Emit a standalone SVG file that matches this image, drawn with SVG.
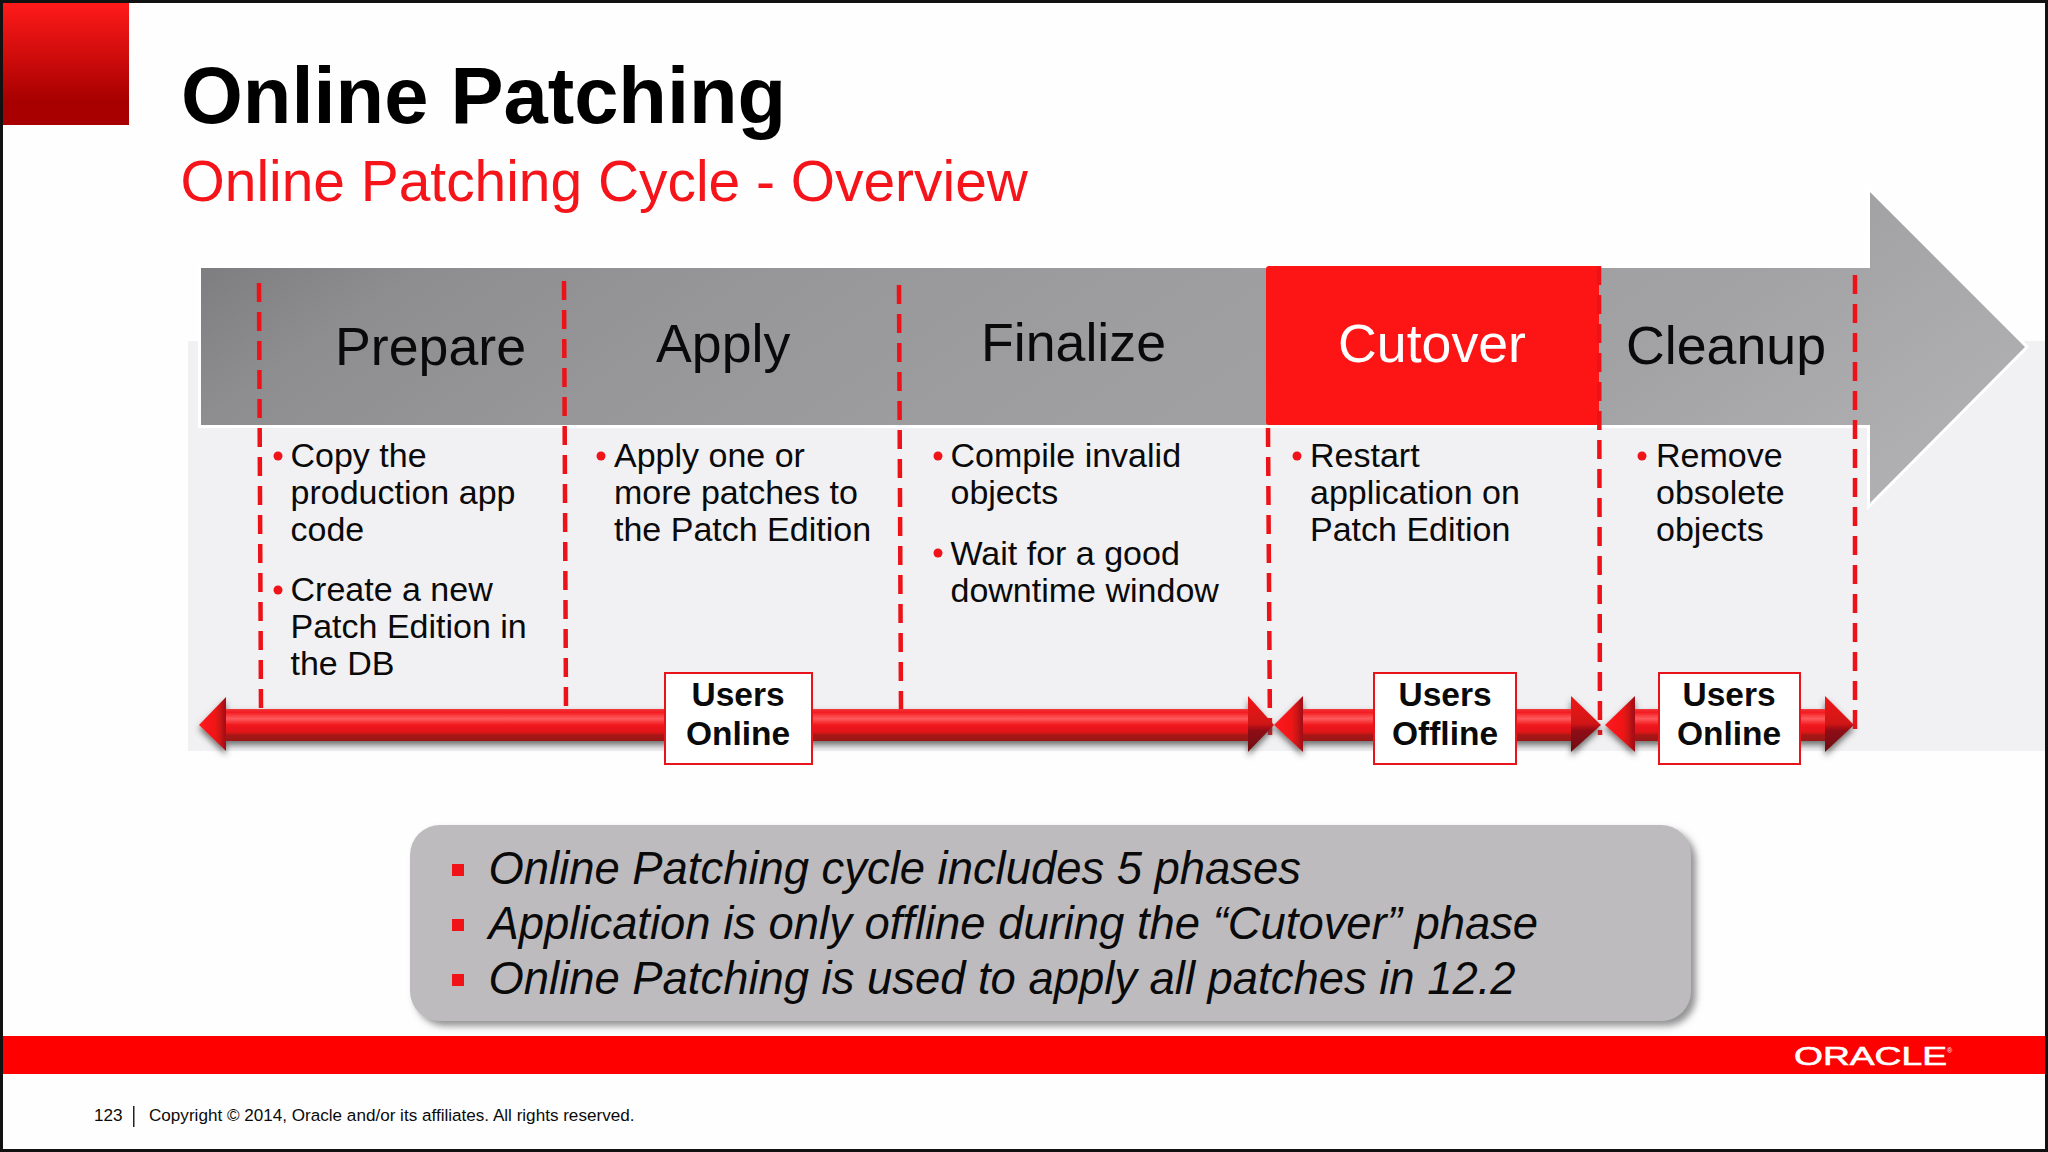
<svg xmlns="http://www.w3.org/2000/svg" width="2048" height="1152" viewBox="0 0 2048 1152">
<style>
text{font-family:"Liberation Sans",Arial,sans-serif;fill:#0a0a0a}
.ph{font-size:53.7px}
.b{font-size:34px}
.u{font-size:33.5px;font-weight:bold;text-anchor:middle}
.k{font-size:45.4px;font-style:italic}
.f{font-size:17.1px}
.dash{fill:none;stroke:#ec1218;stroke-width:4.5;stroke-dasharray:19 10}
.dot{fill:#f0141a}
.sq{fill:#f01216}
.box{fill:#fff;stroke:#e8141c;stroke-width:2}
.shaft{fill:url(#shaft)}
.hl{fill:url(#headL)}
.hr{fill:url(#headR)}
</style>
<defs>
<linearGradient id="tab" x1="0" y1="0" x2="0" y2="1"><stop offset="0" stop-color="#ff1a1a"/><stop offset="0.8" stop-color="#a80000"/><stop offset="1" stop-color="#a80000"/></linearGradient>
<linearGradient id="band" gradientUnits="userSpaceOnUse" x1="200" y1="268" x2="822" y2="1201"><stop offset="0" stop-color="#7e7d80"/><stop offset="0.116" stop-color="#8e8d90"/><stop offset="0.296" stop-color="#979699"/><stop offset="0.513" stop-color="#9e9da0"/><stop offset="0.77" stop-color="#a2a1a4"/><stop offset="1" stop-color="#b0afb2"/></linearGradient>
<linearGradient id="shaft" x1="0" y1="0" x2="0" y2="1"><stop offset="0" stop-color="#f23a3e"/><stop offset="0.1" stop-color="#f21c20"/><stop offset="0.3" stop-color="#ff5a5c"/><stop offset="0.5" stop-color="#f01a1e"/><stop offset="0.72" stop-color="#e01418"/><stop offset="0.82" stop-color="#a81418"/><stop offset="1" stop-color="#9a1216"/></linearGradient>
<linearGradient id="headL" x1="0" y1="0" x2="1" y2="0"><stop offset="0" stop-color="#ff1c1c"/><stop offset="0.6" stop-color="#f01418"/><stop offset="1" stop-color="#a01014"/></linearGradient>
<linearGradient id="headR" x1="0" y1="0" x2="0" y2="1"><stop offset="0" stop-color="#f01418"/><stop offset="0.5" stop-color="#d01216"/><stop offset="0.62" stop-color="#8e1014"/><stop offset="1" stop-color="#6e0c10"/></linearGradient>
<filter id="sh" x="-5%" y="-30%" width="110%" height="170%"><feDropShadow dx="0" dy="4" stdDeviation="3" flood-color="#444" flood-opacity="0.75"/></filter>
<filter id="bs" x="-3%" y="-10%" width="106%" height="120%"><feDropShadow dx="5" dy="5" stdDeviation="3.5" flood-color="#777" flood-opacity="0.8"/></filter>
</defs>
<rect width="2048" height="1152" fill="#fefefe"/>
<rect x="188" y="341" width="1858" height="410" fill="#f1f0f2"/>
<g id="header">
<rect x="3" y="3" width="126" height="122" fill="url(#tab)"/>
<text x="181" y="123" font-size="79.5" font-weight="bold" style="fill:#000">Online Patching</text>
<text x="180.5" y="201" font-size="56.9" style="fill:#f5141a">Online Patching Cycle - Overview</text>
</g>
<g id="band-arrow">
<path d="M201 268H1870V192L2025 347L1870 503V425H201Z" fill="url(#band)" stroke="#fff" stroke-width="6" stroke-linejoin="miter"/>
<path d="M201 268H1870V192L2025 347L1870 503V425H201Z" fill="url(#band)"/>
</g>
<g id="phase-cutover">
<rect x="1266" y="266" width="333" height="159" rx="3" fill="#fd1516"/>
<text class="ph" x="1338" y="362" style="fill:#fff">Cutover</text>
</g>
<g id="connectors">
<path class="dash" d="M259 283L261 709"/>
<path class="dash" d="M564 281L566 709"/>
<path class="dash" d="M899 285L901 709"/>
<path class="dash" d="M1268 428L1270 735"/>
<path class="dash" d="M1599 266L1600 735"/>
<path class="dash" d="M1855 275L1855 738"/>
<g id="arrow-online-1" filter="url(#sh)">
<rect class="shaft" x="222" y="709" width="1030" height="32"/>
<polygon class="hl" points="199,725 226,697 226,751"/>
<polygon class="hr" points="1248,696 1274,725 1248,752"/>
</g>
<g id="arrow-offline" filter="url(#sh)">
<rect class="shaft" x="1300" y="709" width="275" height="32"/>
<polygon class="hl" points="1274,725 1303,696 1303,752"/>
<polygon class="hr" points="1571,696 1601,725 1571,752"/>
</g>
<g id="arrow-online-2" filter="url(#sh)">
<rect class="shaft" x="1632" y="709" width="197" height="32"/>
<polygon class="hl" points="1605,725 1635,696 1635,752"/>
<polygon class="hr" points="1825,696 1854,725 1825,752"/>
</g>
</g>
<g id="phase-prepare">
<text class="ph" x="335" y="365">Prepare</text>
<circle class="dot" cx="278" cy="456" r="4.5"/>
<text class="b" x="290.5" y="467">Copy the</text>
<text class="b" x="290.5" y="504">production app</text>
<text class="b" x="290.5" y="541">code</text>
<circle class="dot" cx="278" cy="590" r="4.5"/>
<text class="b" x="290.5" y="601">Create a new</text>
<text class="b" x="290.5" y="638">Patch Edition in</text>
<text class="b" x="290.5" y="675">the DB</text>
</g>
<g id="phase-apply">
<text class="ph" x="656" y="362">Apply</text>
<circle class="dot" cx="601" cy="456" r="4.5"/>
<text class="b" x="614" y="467">Apply one or</text>
<text class="b" x="614" y="504">more patches to</text>
<text class="b" x="614" y="541">the Patch Edition</text>
</g>
<g id="phase-finalize">
<text class="ph" x="981" y="361">Finalize</text>
<circle class="dot" cx="938" cy="456" r="4.5"/>
<text class="b" x="950.5" y="467">Compile invalid</text>
<text class="b" x="950.5" y="504">objects</text>
<circle class="dot" cx="938" cy="553" r="4.5"/>
<text class="b" x="950.5" y="565">Wait for a good</text>
<text class="b" x="950.5" y="602">downtime window</text>
</g>
<g id="phase-cutover-text">
<circle class="dot" cx="1297" cy="456" r="4.5"/>
<text class="b" x="1310" y="467">Restart</text>
<text class="b" x="1310" y="504">application on</text>
<text class="b" x="1310" y="541">Patch Edition</text>
</g>
<g id="phase-cleanup">
<text class="ph" x="1626" y="364">Cleanup</text>
<circle class="dot" cx="1642" cy="456" r="4.5"/>
<text class="b" x="1656" y="467">Remove</text>
<text class="b" x="1656" y="504">obsolete</text>
<text class="b" x="1656" y="541">objects</text>
</g>
<g id="users-online-1">
<rect class="box" x="665" y="673" width="147" height="91"/>
<text class="u" x="738" y="706">Users</text>
<text class="u" x="738" y="745">Online</text>
</g>
<g id="users-offline">
<rect class="box" x="1374" y="673" width="142" height="91"/>
<text class="u" x="1445" y="706">Users</text>
<text class="u" x="1445" y="745">Offline</text>
</g>
<g id="users-online-2">
<rect class="box" x="1659" y="673" width="141" height="91"/>
<text class="u" x="1729" y="706">Users</text>
<text class="u" x="1729" y="745">Online</text>
</g>
<g id="key-points">
<rect x="410" y="825" width="1281" height="196" rx="30" fill="#bdbbbe" filter="url(#bs)"/>
<rect class="sq" x="452" y="864" width="12" height="12"/>
<rect class="sq" x="452" y="919" width="12" height="12"/>
<rect class="sq" x="452" y="974" width="12" height="12"/>
<text class="k" x="488.5" y="884">Online Patching cycle includes 5 phases</text>
<text class="k" x="488.5" y="939">Application is only offline during the “Cutover” phase</text>
<text class="k" x="488.5" y="994">Online Patching is used to apply all patches in 12.2</text>
</g>
<g id="footer">
<rect x="3" y="1036" width="2043" height="38" fill="#fe0000"/>
<text x="1794" y="1065" font-size="25" textLength="153" lengthAdjust="spacingAndGlyphs" style="fill:#fff;stroke:#fff;stroke-width:0.6">ORACLE</text>
<text x="1947" y="1053" font-size="7" style="fill:#fff">®</text>
<text class="f" x="94" y="1121">123</text>
<rect x="133" y="1106" width="1.5" height="21" fill="#222"/>
<text class="f" x="149" y="1121">Copyright © 2014, Oracle and/or its affiliates. All rights reserved.</text>
</g>
<rect x="1.5" y="1.5" width="2045" height="1149" fill="none" stroke="#111" stroke-width="3"/>
</svg>
